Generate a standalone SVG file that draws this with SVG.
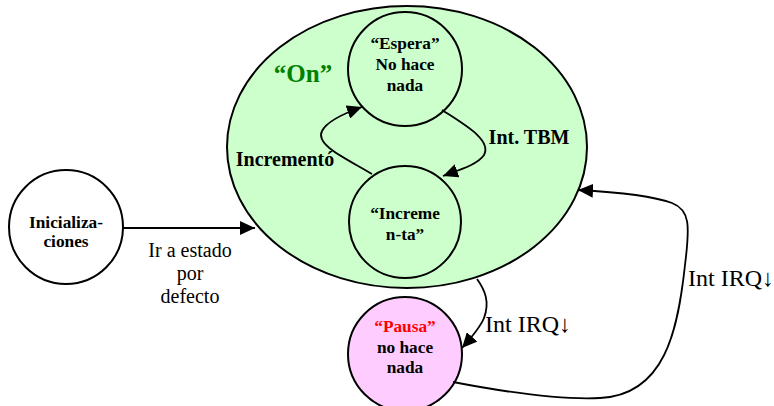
<svg xmlns="http://www.w3.org/2000/svg" width="774" height="406" viewBox="0 0 774 406">
<style>
text{font-family:"Liberation Serif","Times New Roman",serif;fill:#000;text-anchor:middle}
.node{stroke:#000;stroke-width:2}
.nt{font-weight:bold;font-size:17.3px}
.lb{font-weight:bold;font-size:20px}
.el{font-size:20px}
.irq{font-size:24px;text-anchor:start}
.conn{fill:none;stroke:#000;stroke-width:1.8}
</style>
<defs>
<marker id="ah" markerUnits="userSpaceOnUse" markerWidth="16" markerHeight="14" refX="15" refY="7" orient="auto">
<path d="M0,0 L15,7 L0,14 z" fill="#000"/>
</marker>
</defs>
<rect width="774" height="406" fill="#fff"/>
<g id="on">
<ellipse class="node" cx="407" cy="147" rx="180" ry="141" fill="#ccffcc"/>
<text x="303" y="82" style="font-weight:bold;font-size:25px;fill:#008000">“On”</text>
</g>
<g id="espera">
<circle class="node" cx="405" cy="69" r="57" fill="#ccffcc"/>
<text class="nt" x="405" y="49">“Espera”</text>
<text class="nt" x="405" y="70">No hace</text>
<text class="nt" x="405" y="91">nada</text>
</g>
<g id="incrementa">
<circle class="node" cx="405" cy="222" r="56" fill="#ccffcc"/>
<text class="nt" x="405" y="219">“Increme</text>
<text class="nt" x="405" y="240">n-ta”</text>
</g>
<g id="pausa">
<circle class="node" cx="405" cy="354" r="57" fill="#ffccff"/>
<text class="nt" x="405" y="332" style="fill:#ff0000">“Pausa”</text>
<text class="nt" x="405" y="353">no hace</text>
<text class="nt" x="405" y="373">nada</text>
</g>
<g id="init">
<circle class="node" cx="66" cy="227" r="57" fill="#fff"/>
<text class="nt" x="66" y="228">Inicializa-</text>
<text class="nt" x="66" y="247">ciones</text>
</g>
<g id="connectors">
<path class="conn" d="M123,228 L255,228" marker-end="url(#ah)"/>
<path class="conn" d="M372,174 C345,158 315,145 322,131 C327,121 345,113 362,107" marker-end="url(#ah)"/>
<path class="conn" d="M442,110 C465,125 492,140 484,155 C478,164 462,169 443,176" marker-end="url(#ah)"/>
<path class="conn" d="M477,279 C485,290 490,302 484,318 C480,328 471,338 462,348" marker-end="url(#ah)"/>
<path class="conn" d="M453,382 C510,393 560,400 600,398 C665,395 678,330 685,265 C690,225 690,210 672,203 C650,195 615,192 578,190" marker-end="url(#ah)"/>
<text class="el" x="190" y="257">Ir a estado</text>
<text class="el" x="190" y="280">por</text>
<text class="el" x="190" y="303">defecto</text>
<text class="lb" x="285" y="166">Incrementó</text>
<text class="lb" x="529" y="144">Int. TBM</text>
<text class="irq" x="485" y="332">Int IRQ↓</text>
<text class="irq" x="688" y="286">Int IRQ↓</text>
</g>
</svg>
